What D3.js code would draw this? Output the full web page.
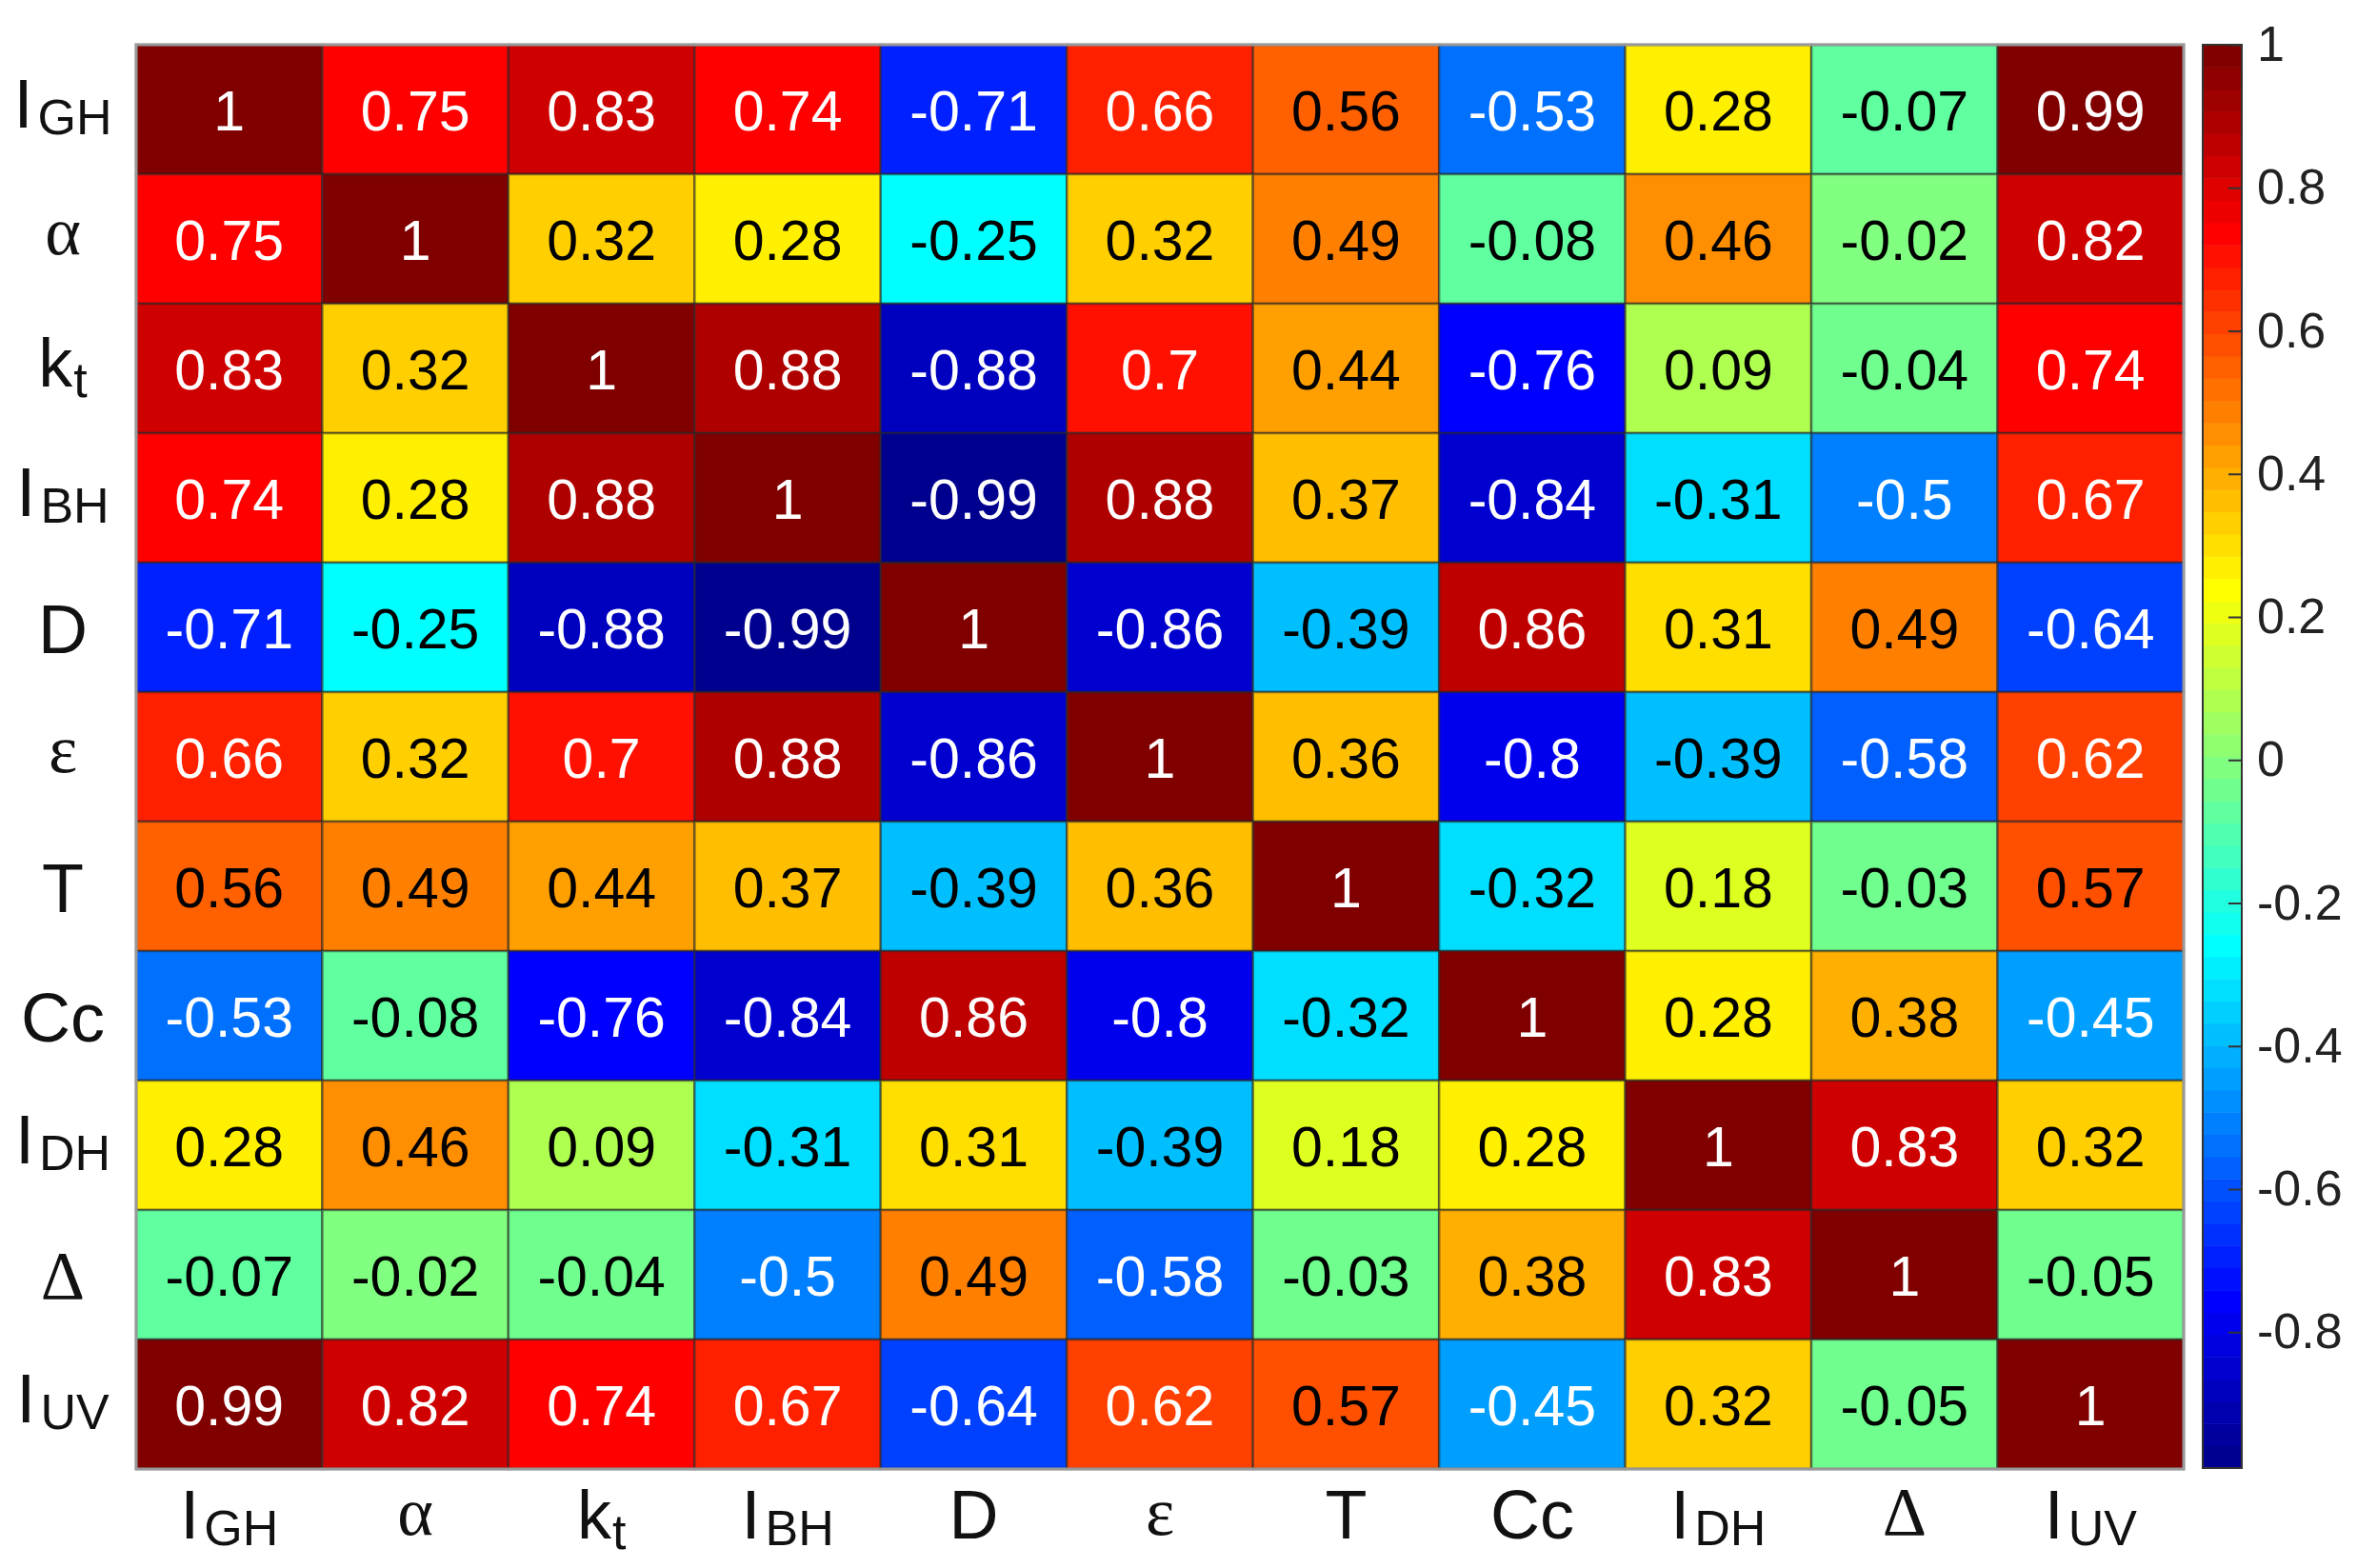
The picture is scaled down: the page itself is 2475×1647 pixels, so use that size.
<!DOCTYPE html>
<html>
<head>
<meta charset="utf-8">
<script src="https://cdn.jsdelivr.net/npm/d3@7"></script>
<style>
  html, body { margin: 0; padding: 0; background: #fff; }
  svg { display: block; }
</style>
</head>
<body>
<svg id="chart" width="2475" height="1647"></svg>
<script>
// ---------- data ----------
const labelMain = ["I", "α", "k", "I", "D", "ε", "T", "Cc", "I", "Δ", "I"];
const labelSub  = ["GH", "", "t", "BH", "", "", "", "", "DH", "", "UV"];

const row0  = [1, 0.75, 0.83, 0.74, -0.71, 0.66, 0.56, -0.53, 0.28, -0.07, 0.99];
const row1  = [0.75, 1, 0.32, 0.28, -0.25, 0.32, 0.49, -0.08, 0.46, -0.02, 0.82];
const row2  = [0.83, 0.32, 1, 0.88, -0.88, 0.7, 0.44, -0.76, 0.09, -0.04, 0.74];
const row3  = [0.74, 0.28, 0.88, 1, -0.99, 0.88, 0.37, -0.84, -0.31, -0.5, 0.67];
const row4  = [-0.71, -0.25, -0.88, -0.99, 1, -0.86, -0.39, 0.86, 0.31, 0.49, -0.64];
const row5  = [0.66, 0.32, 0.7, 0.88, -0.86, 1, 0.36, -0.8, -0.39, -0.58, 0.62];
const row6  = [0.56, 0.49, 0.44, 0.37, -0.39, 0.36, 1, -0.32, 0.18, -0.03, 0.57];
const row7  = [-0.53, -0.08, -0.76, -0.84, 0.86, -0.8, -0.32, 1, 0.28, 0.38, -0.45];
const row8  = [0.28, 0.46, 0.09, -0.31, 0.31, -0.39, 0.18, 0.28, 1, 0.83, 0.32];
const row9  = [-0.07, -0.02, -0.04, -0.5, 0.49, -0.58, -0.03, 0.38, 0.83, 1, -0.05];
const row10 = [0.99, 0.82, 0.74, 0.67, -0.64, 0.62, 0.57, -0.45, 0.32, -0.05, 1];
const matrix = [row0, row1, row2, row3, row4, row5, row6, row7, row8, row9, row10];

const colorLimits = [-0.99, 1];
const colorbarTicks = [1, 0.8, 0.6, 0.4, 0.2, 0, -0.2, -0.4, -0.6, -0.8];

// ---------- MATLAB jet(64) ----------
function jet(m) {
  const n = Math.ceil(m / 4);
  const u = [];
  for (let i = 1; i <= n; i++) u.push(i / n);
  for (let i = 1; i <= n - 1; i++) u.push(1);
  for (let i = n; i >= 1; i--) u.push(i / n);
  const off = Math.ceil(n / 2) - (m % 4 === 1 ? 1 : 0);
  const J = Array.from({length: m}, () => [0, 0, 0]);
  const g = [], r = [], b = [];
  for (let i = 1; i <= u.length; i++) {
    const gi = off + i;
    g.push(gi); r.push(gi + n); b.push(gi - n);
  }
  const gK = g.filter(v => v <= m), rK = r.filter(v => v <= m), bK = b.filter(v => v >= 1);
  rK.forEach((ix, k) => { J[ix - 1][0] = u[k]; });
  gK.forEach((ix, k) => { J[ix - 1][1] = u[k]; });
  bK.forEach((ix, k) => { J[ix - 1][2] = u[u.length - bK.length + k]; });
  return J.map(c => d3.rgb(Math.round(c[0] * 255), Math.round(c[1] * 255), Math.round(c[2] * 255)).formatHex());
}
const cmap = jet(64);
const colorIndex = d3.scaleLinear().domain(colorLimits).range([0, 64]);
const colorOf = v => cmap[Math.max(0, Math.min(63, Math.floor(colorIndex(v) + 1e-9)))];

// ---------- layout ----------
const svg = d3.select("#chart");
const plotL = 143, plotR = 2293, plotT = 47, plotB = 1543;
const idx = d3.range(labelMain.length);
const x = d3.scaleBand().domain(idx).range([plotL, plotR]);
const y = d3.scaleBand().domain(idx).range([plotT, plotB]);

const cells = [];
matrix.forEach((row, i) => row.forEach((v, j) => cells.push({i, j, v})));

const gMap = svg.append("g");
gMap.selectAll("rect.cell").data(cells).join("rect")
  .attr("class", "cell")
  .attr("x", d => x(d.j)).attr("y", d => y(d.i))
  .attr("width", x.bandwidth()).attr("height", y.bandwidth())
  .attr("fill", d => colorOf(d.v))
  .attr("stroke", "rgba(40,40,40,0.55)").attr("stroke-width", 2.5);

gMap.selectAll("text.val").data(cells).join("text")
  .attr("class", "val")
  .attr("x", d => x(d.j) + x.bandwidth() / 2)
  .attr("y", d => y(d.i) + y.bandwidth() / 2 + 22)
  .attr("text-anchor", "middle")
  .attr("font-family", "'Liberation Sans', Arial, sans-serif")
  .attr("font-size", 59)
  .attr("fill", d => (d.v >= 0.6 || d.v <= -0.45) ? "#ffffff" : "#000000")
  .text(d => String(d.v));

// outer frame
svg.append("rect")
  .attr("x", plotL).attr("y", plotT).attr("width", plotR - plotL).attr("height", plotB - plotT)
  .attr("fill", "none").attr("stroke", "#999").attr("stroke-width", 3);

// ---------- labels ----------
const isGreek = s => /[\u0370-\u03ff]/.test(s);
function baselineOffset(i) {
  const m = labelMain[i];
  if (labelSub[i]) return 19;
  if (m === "α" || m === "ε") return 16;
  if (m === "Δ") return 25;
  return 27;
}
function addLabel(sel, i) {
  const m = labelMain[i];
  sel.append("tspan")
    .attr("font-family", isGreek(m) ? "'Liberation Serif', 'Times New Roman', serif" : "'Liberation Sans', Arial, sans-serif")
    .attr("font-size", 72)
    .text(m);
  if (labelSub[i]) {
    sel.append("tspan")
      .attr("font-family", "'Liberation Sans', Arial, sans-serif")
      .attr("font-size", 52)
      .attr("dx", m === "I" ? 5 : 1)
      .attr("dy", m === "k" ? 11 : 7)
      .text(labelSub[i]);
  }
}

const rowLabels = svg.append("g");
idx.forEach(i => {
  const t = rowLabels.append("text")
    .attr("x", 66)
    .attr("y", y(i) + y.bandwidth() / 2 + baselineOffset(i))
    .attr("text-anchor", "middle")
    .attr("fill", "#111");
  addLabel(t, i);
});

const colLabels = svg.append("g");
idx.forEach(i => {
  const m = labelMain[i];
  const base = labelSub[i] ? 1616 : (isGreek(m) ? 1612 : 1616);
  const t = colLabels.append("text")
    .attr("x", x(i) + x.bandwidth() / 2)
    .attr("y", base)
    .attr("text-anchor", "middle")
    .attr("fill", "#111");
  addLabel(t, i);
});

// ---------- colorbar ----------
const cbLeft = 2313, cbRight = 2354, cbTop = 47, cbBottom = 1542;
const cy = d3.scaleLinear().domain(colorLimits).range([cbBottom, cbTop]);
const bands = d3.range(64);
const bandVal = k => colorLimits[0] + (colorLimits[1] - colorLimits[0]) * k / 64;
svg.append("g").selectAll("rect").data(bands).join("rect")
  .attr("x", cbLeft)
  .attr("y", k => cy(bandVal(k + 1)))
  .attr("width", cbRight - cbLeft)
  .attr("height", k => cy(bandVal(k)) - cy(bandVal(k + 1)) + 0.5)
  .attr("fill", k => cmap[k]);
svg.append("rect")
  .attr("x", cbLeft).attr("y", cbTop).attr("width", cbRight - cbLeft).attr("height", cbBottom - cbTop)
  .attr("fill", "none").attr("stroke", "#333").attr("stroke-width", 2);

const cbAxis = d3.axisRight(cy)
  .tickValues(colorbarTicks)
  .tickSizeInner(-14).tickSizeOuter(0)
  .tickPadding(16)
  .tickFormat(d => String(+d.toFixed(1)));
const ax = svg.append("g").attr("transform", `translate(${cbRight},0)`).call(cbAxis);
ax.select(".domain").remove();
ax.selectAll(".tick line").attr("stroke", "#333").attr("stroke-width", 2);
ax.selectAll(".tick text")
  .attr("font-family", "'Liberation Sans', Arial, sans-serif")
  .attr("font-size", 52)
  .attr("fill", "#222")
  .attr("x", 16);
</script>
</body>
</html>
